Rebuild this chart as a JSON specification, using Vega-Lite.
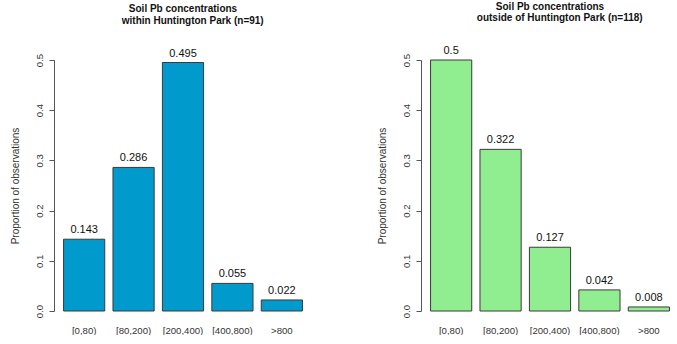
{
  "$schema": "https://vega.github.io/schema/vega-lite/v6.json",
  "background": "white",
  "padding": {"left": 10, "top": 1, "right": 0, "bottom": 0},
  "bounds": "flush",
  "spacing": 109,
  "datasets": {
    "within": [
      {"bin": "[0,80)", "value": 0.143},
      {"bin": "[80,200)", "value": 0.286},
      {"bin": "[200,400)", "value": 0.495},
      {"bin": "[400,800)", "value": 0.055},
      {"bin": ">800", "value": 0.022}
    ],
    "outside": [
      {"bin": "[0,80)", "value": 0.5},
      {"bin": "[80,200)", "value": 0.322},
      {"bin": "[200,400)", "value": 0.127},
      {"bin": "[400,800)", "value": 0.042},
      {"bin": ">800", "value": 0.008}
    ]
  },
  "config": {
    "font": "Liberation Sans",
    "view": {"stroke": null},
    "title": {
      "font": "Liberation Sans",
      "fontSize": 10,
      "fontWeight": "bold",
      "color": "#111",
      "lineHeight": 11.5,
      "anchor": "middle",
      "frame": "group",
      "offset": 22
    },
    "axisX": {
      "domain": false,
      "ticks": false,
      "tickSize": 0,
      "labelAngle": 0,
      "labelPadding": 14,
      "labelFontSize": 9.6,
      "labelColor": "#333",
      "labelFont": "Liberation Sans",
      "title": null
    },
    "axisY": {
      "grid": false,
      "domainColor": "#555",
      "tickColor": "#555",
      "tickSize": 5,
      "labelAngle": -90,
      "labelAlign": "center",
      "labelBaseline": "middle",
      "labelPadding": 10,
      "labelFontSize": 9.6,
      "labelColor": "#333",
      "labelFont": "Liberation Sans",
      "labelFlush": false,
      "labelOverlap": false,
      "titleFont": "Liberation Sans",
      "titleFontSize": 10,
      "titleFontWeight": "normal",
      "titleColor": "#333",
      "titlePadding": 14
    }
  },
  "hconcat": [
    {
      "data": {"name": "within"},
      "width": 258,
      "height": 251,
      "title": {"text": ["Soil Pb concentrations", "\u200b\u00a0\u00a0\u00a0\u00a0\u00a0\u00a0\u00a0within Huntington Park (n=91)"]},
      "encoding": {
        "x": {
          "field": "bin", "type": "nominal", "sort": null,
          "scale": {"paddingInner": 0.1667, "paddingOuter": 0.1933}
        },
        "y": {
          "field": "value", "type": "quantitative",
          "scale": {"domain": [0, 0.5], "nice": false},
          "axis": {"title": "Proportion of observations", "values": [0, 0.1, 0.2, 0.3, 0.4, 0.5], "format": ".1f"}
        }
      },
      "layer": [
        {"mark": {"type": "bar", "color": "#009ACD", "stroke": "#3a3a3a", "strokeWidth": 1}},
        {
          "mark": {"type": "text", "baseline": "bottom", "dy": -4, "fontSize": 11, "color": "#111"},
          "encoding": {"text": {"field": "value", "type": "quantitative"}}
        }
      ]
    },
    {
      "data": {"name": "outside"},
      "width": 258,
      "height": 251,
      "title": {"text": ["Soil Pb concentrations", "\u200b\u00a0\u00a0\u00a0\u00a0\u00a0\u00a0\u00a0outside of Huntington Park (n=118)"]},
      "encoding": {
        "x": {
          "field": "bin", "type": "nominal", "sort": null,
          "scale": {"paddingInner": 0.1667, "paddingOuter": 0.1933}
        },
        "y": {
          "field": "value", "type": "quantitative",
          "scale": {"domain": [0, 0.5], "nice": false},
          "axis": {"title": "Proportion of observations", "values": [0, 0.1, 0.2, 0.3, 0.4, 0.5], "format": ".1f"}
        }
      },
      "layer": [
        {"mark": {"type": "bar", "color": "#90EE90", "stroke": "#3a3a3a", "strokeWidth": 1}},
        {
          "mark": {"type": "text", "baseline": "bottom", "dy": -4, "fontSize": 11, "color": "#111"},
          "encoding": {"text": {"field": "value", "type": "quantitative"}}
        }
      ]
    }
  ]
}
